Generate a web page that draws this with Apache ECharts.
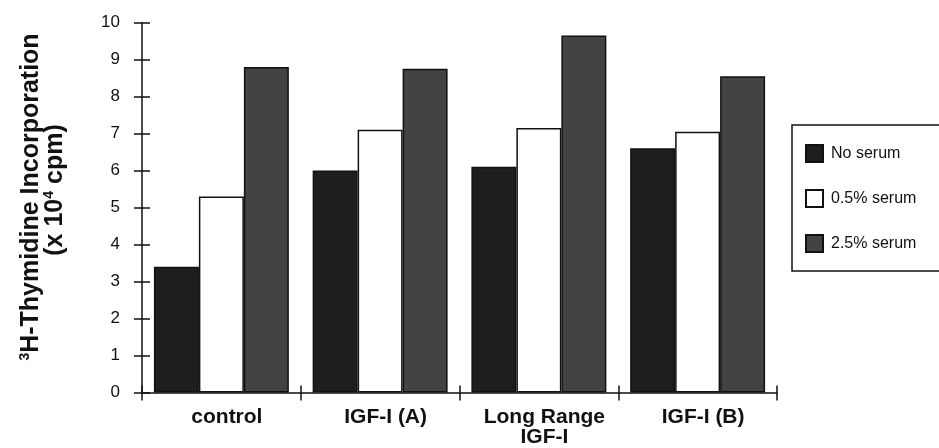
<!DOCTYPE html>
<html>
<head>
<meta charset="utf-8">
<script src="https://cdn.jsdelivr.net/npm/echarts@6/dist/echarts.min.js"></script>
<style>
  html, body { margin: 0; padding: 0; background: #fff; }
  #chart { width: 939px; height: 448px; }
</style>
</head>
<body>
<div id="chart"></div>
<script>
// Treatment groups along the x axis
const categories = ['control', 'IGF-I (A)', 'Long Range\nIGF-I', 'IGF-I (B)'];

// 3H-thymidine incorporation (x 10^4 cpm) for each serum condition
const noSerum = [3.4, 6.0, 6.1, 6.6];
const serum05 = [5.3, 7.1, 7.15, 7.05];
const serum25 = [8.8, 8.75, 9.65, 8.55];

const seriesNames = ['No serum', '0.5% serum', '2.5% serum'];
const yTicks = { min: 0, max: 10, interval: 1 };

const FONT = '"Liberation Sans", Arial, Helvetica, sans-serif';
const INK = '#111';

const chart = echarts.init(document.getElementById('chart'), null, { renderer: 'canvas' });

const barStyle = (fill) => ({ color: fill, borderColor: INK, borderWidth: 1.5 });

const titleRich = {
  s: { fontFamily: FONT, fontSize: 14, fontWeight: 'bold', fill: INK, verticalAlign: 'top', padding: [0, 0, 10, 0] },
  m: { fontFamily: FONT, fontSize: 25, fontWeight: 'bold', fill: INK }
};

chart.setOption({
  animation: false,
  backgroundColor: '#fff',
  textStyle: { fontFamily: FONT },
  grid: { left: 142, right: 162, top: 22.5, bottom: 52.5, containLabel: false },
  legend: {
    orient: 'vertical',
    left: 792,
    top: 125,
    padding: [19, 80, 18, 13],
    itemWidth: 17,
    itemHeight: 17,
    itemGap: 26,
    borderColor: INK,
    borderWidth: 1.5,
    backgroundColor: '#fff',
    icon: 'rect',
    data: seriesNames,
    textStyle: { fontFamily: FONT, fontSize: 16, color: INK, padding: [0, 0, 0, 3] }
  },
  xAxis: [
    {
      type: 'category',
      data: categories,
      position: 'bottom',
      boundaryGap: true,
      axisLine: { show: true, lineStyle: { color: INK, width: 1.5 } },
      axisTick: { show: true, length: 8, lineStyle: { color: INK, width: 1.5 } },
      axisLabel: {
        margin: 15,
        fontFamily: FONT,
        fontSize: 21,
        fontWeight: 'bold',
        color: INK,
        lineHeight: 20,
        padding: [0, 0, 0, 11]
      },
      splitLine: { show: false }
    },
    {
      // second copy of the category axis: tick marks on the inner side
      type: 'category',
      data: categories,
      position: 'bottom',
      offset: 0,
      boundaryGap: true,
      axisLine: { show: false },
      axisTick: { show: true, inside: true, length: 7, lineStyle: { color: INK, width: 1.5 } },
      axisLabel: { show: false },
      splitLine: { show: false }
    }
  ],
  yAxis: [
    {
      type: 'value',
      min: yTicks.min,
      max: yTicks.max,
      interval: yTicks.interval,
      position: 'left',
      axisLine: { show: true, lineStyle: { color: INK, width: 1.5 } },
      axisTick: { show: true, length: 8, lineStyle: { color: INK, width: 1.5 } },
      axisLabel: { margin: 22, fontFamily: FONT, fontSize: 17, color: INK },
      splitLine: { show: false }
    },
    {
      // inner ticks so each tick crosses the axis line
      type: 'value',
      min: yTicks.min,
      max: yTicks.max,
      interval: yTicks.interval,
      position: 'left',
      offset: 0,
      axisLine: { show: false },
      axisTick: { show: true, inside: true, length: 8, lineStyle: { color: INK, width: 1.5 } },
      axisLabel: { show: false },
      splitLine: { show: false }
    }
  ],
  graphic: [
    {
      type: 'text',
      x: 31,
      y: 197,
      rotation: Math.PI / 2,
      style: {
        text: '{s|3}{m|H-Thymidine Incorporation}',
        align: 'center',
        verticalAlign: 'middle',
        fill: INK,
        rich: titleRich
      }
    },
    {
      type: 'text',
      x: 55,
      y: 190,
      rotation: Math.PI / 2,
      style: {
        text: '{m|(x 10}{s|4}{m| cpm)}',
        align: 'center',
        verticalAlign: 'middle',
        fill: INK,
        rich: titleRich
      }
    }
  ],
  series: [
    {
      name: seriesNames[0],
      type: 'bar',
      data: noSerum,
      barGap: '0%',
      barCategoryGap: '15%',
      itemStyle: barStyle('#1e1e1e')
    },
    {
      name: seriesNames[1],
      type: 'bar',
      data: serum05,
      barGap: '0%',
      barCategoryGap: '15%',
      itemStyle: barStyle('#fff')
    },
    {
      name: seriesNames[2],
      type: 'bar',
      data: serum25,
      barGap: '0%',
      barCategoryGap: '15%',
      itemStyle: barStyle('#434343')
    }
  ]
});
</script>
</body>
</html>
